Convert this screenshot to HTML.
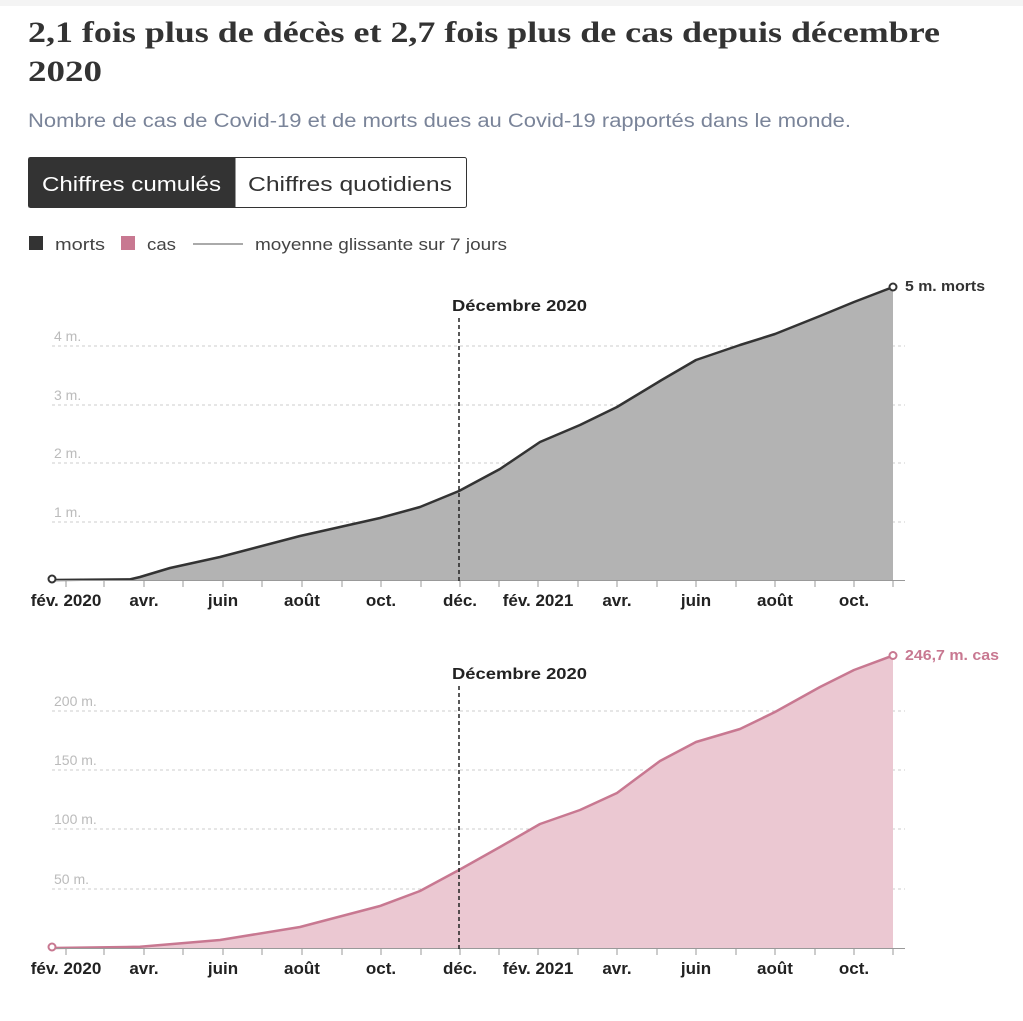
<!DOCTYPE html>
<html><head><meta charset="utf-8"><style>
body{margin:0;background:#fff;width:1023px;height:1016px;overflow:hidden;font-family:"Liberation Sans",sans-serif}
</style></head><body>
<svg width="1023" height="1016" xmlns="http://www.w3.org/2000/svg" font-family="Liberation Sans, sans-serif">
<rect x="0" y="0" width="1023" height="6" fill="#f4f4f4"/>
<text x="28" y="42" font-family="Liberation Serif, serif" font-weight="bold" font-size="30" fill="#333" textLength="912" lengthAdjust="spacingAndGlyphs">2,1 fois plus de décès et 2,7 fois plus de cas depuis décembre</text>
<text x="28" y="81" font-family="Liberation Serif, serif" font-weight="bold" font-size="30" fill="#333" textLength="74" lengthAdjust="spacingAndGlyphs">2020</text>
<text x="28" y="127" font-size="19" fill="#7a8499" textLength="823" lengthAdjust="spacingAndGlyphs">Nombre de cas de Covid-19 et de morts dues au Covid-19 rapportés dans le monde.</text>
<rect x="28.5" y="157.5" width="438" height="50" rx="2" fill="#fff" stroke="#333"/>
<rect x="28.5" y="157.5" width="207" height="50" fill="#333"/>
<text x="42" y="191" font-size="20" fill="#fff" textLength="179" lengthAdjust="spacingAndGlyphs">Chiffres cumulés</text>
<text x="248" y="191" font-size="20" fill="#333" textLength="204" lengthAdjust="spacingAndGlyphs">Chiffres quotidiens</text>
<rect x="29" y="236" width="14" height="14" fill="#333"/>
<text x="55" y="250" font-size="17" fill="#444" textLength="50" lengthAdjust="spacingAndGlyphs">morts</text>
<rect x="121" y="236" width="14" height="14" fill="#c87891"/>
<text x="147" y="250" font-size="17" fill="#444" textLength="29" lengthAdjust="spacingAndGlyphs">cas</text>
<line x1="193" y1="244" x2="243" y2="244" stroke="#aaa" stroke-width="2"/>
<text x="255" y="250" font-size="17" fill="#444" textLength="252" lengthAdjust="spacingAndGlyphs">moyenne glissante sur 7 jours</text>

<g id="top">
<g stroke="#ccc" stroke-dasharray="3,3">
<line x1="52" y1="346" x2="905" y2="346"/><line x1="52" y1="405" x2="905" y2="405"/><line x1="52" y1="463" x2="905" y2="463"/><line x1="52" y1="522" x2="905" y2="522"/>
</g>
<g font-size="14" fill="#bbb"><text x="54" y="341">4 m.</text><text x="54" y="400">3 m.</text><text x="54" y="458">2 m.</text><text x="54" y="517">1 m.</text></g>
<path d="M52,580 L130,579.4 L140,577 L170,568 L220,557 L300,536 L380,518 L420,507 L459,491 L500,469 L540,442 L580,425 L617,407 L660,381 L696,360 L740,345 L775,334 L820,316 L854,302 L893,287 L893,580 Z" fill="#b3b3b3"/>
<path d="M52,580 L130,579.4 L140,577 L170,568 L220,557 L300,536 L380,518 L420,507 L459,491 L500,469 L540,442 L580,425 L617,407 L660,381 L696,360 L740,345 L775,334 L820,316 L854,302 L893,287" fill="none" stroke="#333" stroke-width="2.5" stroke-linejoin="round"/>
<line x1="52" y1="580.5" x2="905" y2="580.5" stroke="#999"/>
<line x1="459" y1="318" x2="459" y2="582" stroke="#222" stroke-dasharray="4,3" stroke-width="1.5"/>
<text x="452" y="311" font-size="16" font-weight="bold" fill="#222" textLength="135" lengthAdjust="spacingAndGlyphs">Décembre 2020</text>
<circle cx="52" cy="579" r="3.5" fill="#fff" stroke="#333" stroke-width="2"/>
<circle cx="893" cy="287" r="3.5" fill="#fff" stroke="#333" stroke-width="2"/>
<text x="905" y="291" font-size="15" font-weight="bold" fill="#333" textLength="80" lengthAdjust="spacingAndGlyphs">5 m. morts</text>
</g>

<g id="bot">
<g stroke="#ccc" stroke-dasharray="3,3">
<line x1="52" y1="711" x2="905" y2="711"/><line x1="52" y1="770" x2="905" y2="770"/><line x1="52" y1="829" x2="905" y2="829"/><line x1="52" y1="889" x2="905" y2="889"/>
</g>
<g font-size="14" fill="#bbb"><text x="54" y="706">200 m.</text><text x="54" y="765">150 m.</text><text x="54" y="824">100 m.</text><text x="54" y="884">50 m.</text></g>
<path d="M52,948 L140,946.8 L220,940 L300,927 L380,906 L420,891 L459,870 L500,847 L540,824 L580,810 L617,793 L660,761 L696,742 L740,729 L775,712 L820,687 L854,670 L893,655.5 L893,948 Z" fill="#ebc8d2"/>
<path d="M52,948 L140,946.8 L220,940 L300,927 L380,906 L420,891 L459,870 L500,847 L540,824 L580,810 L617,793 L660,761 L696,742 L740,729 L775,712 L820,687 L854,670 L893,655.5" fill="none" stroke="#c87891" stroke-width="2.5" stroke-linejoin="round"/>
<line x1="52" y1="948.5" x2="905" y2="948.5" stroke="#999"/>
<line x1="459" y1="686" x2="459" y2="950" stroke="#222" stroke-dasharray="4,3" stroke-width="1.5"/>
<text x="452" y="679" font-size="16" font-weight="bold" fill="#222" textLength="135" lengthAdjust="spacingAndGlyphs">Décembre 2020</text>
<circle cx="52" cy="947" r="3.5" fill="#fff" stroke="#c87891" stroke-width="2"/>
<circle cx="893" cy="655.5" r="3.5" fill="#fff" stroke="#c87891" stroke-width="2"/>
<text x="905" y="660" font-size="15" font-weight="bold" fill="#c87891" textLength="94" lengthAdjust="spacingAndGlyphs">246,7 m. cas</text>
</g>

<g stroke="#999">
<path d="M66,581v6M104,581v6M144,581v6M183,581v6M223,581v6M262,581v6M302,581v6M342,581v6M381,581v6M421,581v6M460,581v6M499,581v6M538,581v6M578,581v6M617,581v6M657,581v6M696,581v6M736,581v6M775,581v6M815,581v6M854,581v6M893,581v6"/>
<path d="M66,949v6M104,949v6M144,949v6M183,949v6M223,949v6M262,949v6M302,949v6M342,949v6M381,949v6M421,949v6M460,949v6M499,949v6M538,949v6M578,949v6M617,949v6M657,949v6M696,949v6M736,949v6M775,949v6M815,949v6M854,949v6M893,949v6"/>
</g>
<g font-size="17" font-weight="bold" fill="#222" text-anchor="middle">
<text x="66" y="606">fév. 2020</text><text x="144" y="606">avr.</text><text x="223" y="606">juin</text><text x="302" y="606">août</text><text x="381" y="606">oct.</text><text x="460" y="606">déc.</text><text x="538" y="606">fév. 2021</text><text x="617" y="606">avr.</text><text x="696" y="606">juin</text><text x="775" y="606">août</text><text x="854" y="606">oct.</text>
<text x="66" y="974">fév. 2020</text><text x="144" y="974">avr.</text><text x="223" y="974">juin</text><text x="302" y="974">août</text><text x="381" y="974">oct.</text><text x="460" y="974">déc.</text><text x="538" y="974">fév. 2021</text><text x="617" y="974">avr.</text><text x="696" y="974">juin</text><text x="775" y="974">août</text><text x="854" y="974">oct.</text>
</g>
</svg>
</body></html>
